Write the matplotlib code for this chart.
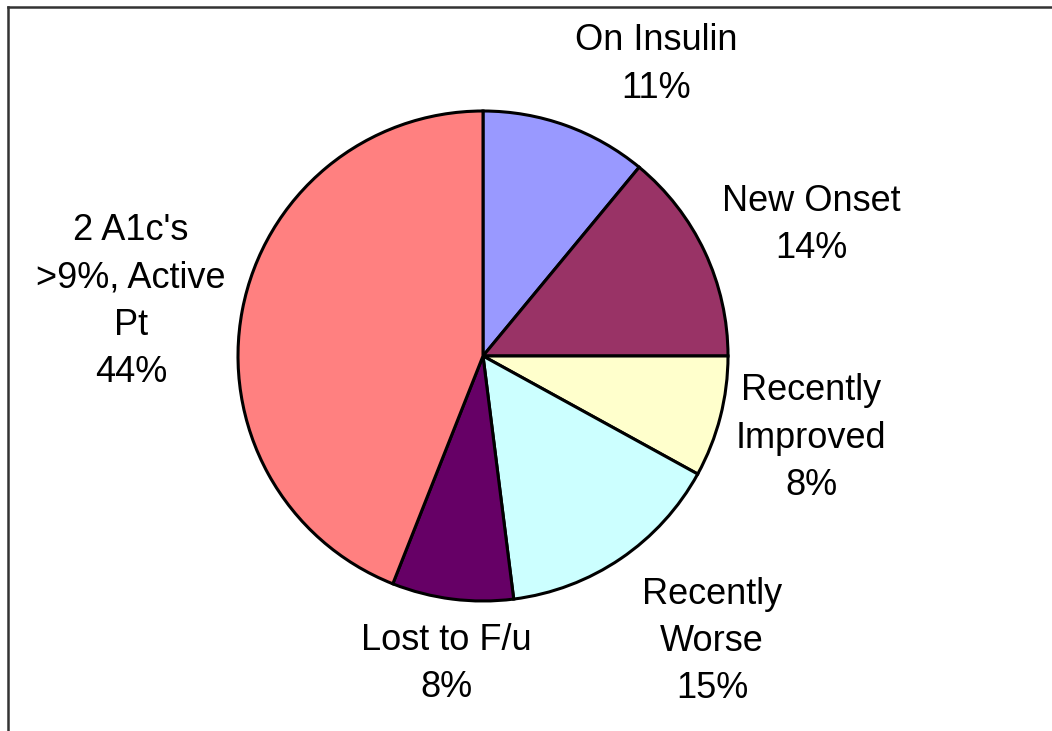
import matplotlib
matplotlib.use("Agg")
import matplotlib.pyplot as plt
from matplotlib.lines import Line2D

# share of patients per group, clockwise from 12 o'clock
groups = ["On Insulin", "New Onset", "Recently\nImproved", "Recently\nWorse",
          "Lost to F/u", "2 A1c's\n>9%, Active\nPt"]
shares = [11, 14, 8, 15, 8, 44]
colors = ["#9999FF", "#993366", "#FFFFCC", "#CCFFFF", "#660066", "#FF8080"]

# label anchor points in units of the pie radius
label_xy = [(0.706, 1.19), (1.339, 0.535), (1.339, -0.335),
            (0.935, -1.165), (-0.151, -1.257), (-1.437, 0.222)]

plt.rcParams["font.family"] = ["Liberation Sans", "DejaVu Sans"]

fig = plt.figure(figsize=(10.52, 7.31), dpi=100)
ax = fig.add_axes([0, 0, 1, 1])

ax.pie(shares, colors=colors, startangle=90, counterclock=False,
       wedgeprops=dict(edgecolor="black", linewidth=2.2))

for name, val, (lx, ly) in zip(groups, shares, label_xy):
    ax.text(lx, ly, f"{name}\n{val}%", ha="center", va="center",
            fontsize=26, linespacing=1.46)

# radius 1 maps to 245 px, pie centre sits at (483, 356) px
ax.set_aspect("auto")
ax.set_xlim(-483 / 245, (1052 - 483) / 245)
ax.set_ylim(-(731 - 356) / 245, 356 / 245)
ax.axis("off")

# chart area border: only the top and left edges are visible
fig.add_artist(Line2D([8 / 1052, 8 / 1052], [0, 1 - 7 / 731],
                      transform=fig.transFigure, color="#333333", linewidth=1.8))
fig.add_artist(Line2D([8 / 1052, 1], [1 - 7 / 731, 1 - 7 / 731],
                      transform=fig.transFigure, color="#333333", linewidth=1.8))

fig.savefig("out.png", dpi=100)
